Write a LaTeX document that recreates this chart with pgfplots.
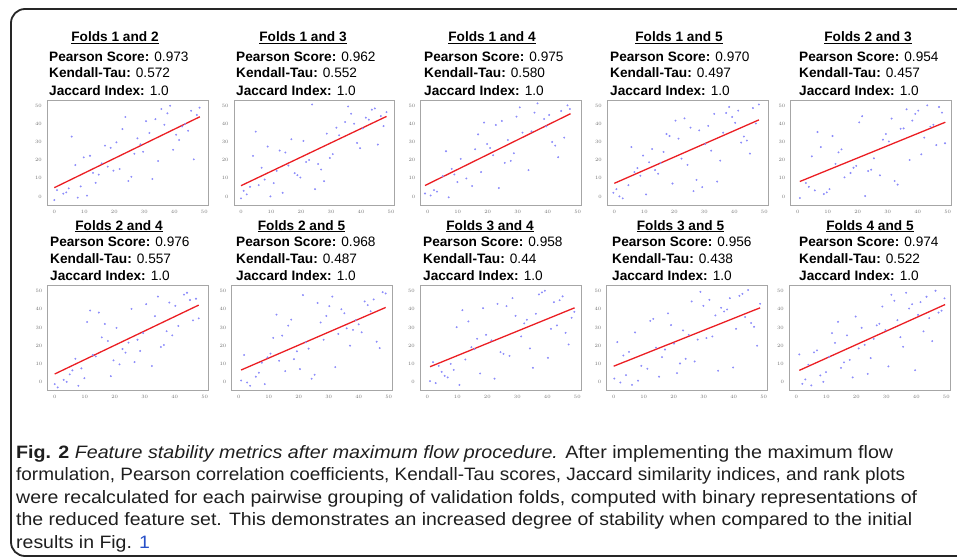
\documentclass[border=0pt]{standalone}
\usepackage{pgfplots}
\pgfplotsset{compat=1.18}
\usepackage{pgfplotstable}
\usepackage{fontspec}
\setmainfont{Liberation Sans}
\usepackage{graphicx}

\definecolor{pt}{RGB}{140,140,250}
\definecolor{rl}{RGB}{235,30,35}
\definecolor{lnk}{RGB}{40,80,200}
\definecolor{cap}{RGB}{30,30,30}

\pgfplotstableread{
x y
0 -2
0.9 3.5
3 1.5
4 2.2
4.8 4.4
5.8 33
7 17.3
7.8 -0.7
8.8 5.5
9.8 21.5
10.9 0.4
11.9 22.4
12.9 13
13.8 7.5
14.8 12
15.8 18.2
16.9 28
17.8 16.4
18.8 26.8
19.7 14.2
20.7 29.8
21.8 15.1
22.7 37.1
23.7 43.8
24.7 8.5
25.7 10.8
26.7 23.5
27.7 32
28.7 28.7
29.6 24.6
30.6 41.5
31.7 35
32.7 9.6
33.7 42.6
34.6 19.5
35.7 48.2
36.7 39.5
37.7 45.8
38.6 50
39.6 25.7
40.6 34
41.6 31.1
42.6 38.6
43.6 39.9
44.6 36.2
45.6 47.2
46.5 20.4
47.5 44.9
48.4 48.9
}\dA

\pgfplotstableread{
x y
0 -1.1
0.9 3.1
1.9 1.1
3 5.3
4 22.3
4.9 35.7
5.9 6.2
6.9 15.8
7.9 9.3
8.9 27.5
9.8 0
10.9 7.3
11.9 14.1
12.9 25.3
13.9 2
14.8 24.2
15.8 17
16.8 31.5
17.9 12.8
18.8 11.7
19.8 10.4
20.8 30.6
21.7 19
22.7 20.1
23.7 50.7
24.7 4
25.7 17.9
26.7 14.8
27.7 8.4
28.6 34.6
29.6 21.2
30.6 23.3
31.8 37.9
32.7 33.7
34.7 41
35.7 49.6
36.7 45.6
37.7 40.1
38.7 29.5
39.7 26.6
40.6 37.5
41.6 43.4
42.6 42.3
43.6 47.8
44.6 48.5
45.6 28.6
46.6 44.3
47.5 38.8
48.5 46.5
}\dB

\pgfplotstableread{
x y
-0.9 1.6
1 0.5
2.1 3.5
3.1 2.6
5 11.2
6.1 24.9
7 -0.5
8 15.2
8.9 12.1
9.9 7.9
11 20.7
12.9 9.9
14.8 5.7
15.8 26
16.8 34.2
17.8 13.4
18.8 40.7
19.8 28.9
20.8 26.7
21.8 22.7
22.7 39.4
23.7 4.6
24.7 41.6
25.7 18.5
26.7 31.1
27.7 19.6
28.7 23.8
29.6 44
30.7 49.1
31.6 35.2
33.6 14.5
34.6 35.9
35.6 46.2
36.6 51.3
38.8 42.7
39.5 38.6
40.5 44.9
41.5 30
42.5 28
43.5 21.6
44.5 47.1
45.5 32.4
46.6 50.2
47.4 48.2
}\dC

\pgfplotstableread{
x y
-0.3 2
0.7 4
1.7 0
2.8 -1.1
4.7 6.2
5.7 27.2
6.7 13.4
7.7 15.6
8.7 11.4
9.6 22.5
10.6 1.1
11.6 18.8
12.6 26.1
13.6 14.5
14.6 12.5
15.4 18.5
16.4 24.5
17.4 34.4
18.4 33.3
19.4 7.1
20.4 41.8
21.4 31.9
22.4 20.8
23.4 43
24.4 17.4
25.4 37.9
26.4 2.9
27.4 9.1
28.3 36.4
29.3 5.1
30.3 28.8
31.3 38.9
32.3 25.2
33.3 45.5
34.3 8.2
35.3 19.7
36.3 35.1
37.3 46
38.3 49.3
39.3 43.8
40.3 40.6
41.3 47.3
42.3 29.7
43.2 33
44.2 30.8
45.2 23.6
46.2 48.7
47.2 40.2
48.2 50.7
}\dD

\pgfplotstableread{
x y
0.7 -0.9
2.7 7.4
3.7 5.3
4.7 22.1
5.7 3.3
6.6 35.5
7.7 27.2
8.7 1.3
9.7 2.2
10.6 4
11.6 33.3
12.6 17.9
13.6 24.3
14.6 25.9
15.6 10.5
17.6 12.9
18.6 15.8
19.5 16.8
20.5 40.8
21.5 44.2
22.5 0.2
23.5 14
24.5 14.7
25.4 21
27.4 11.6
28.4 31.3
29.4 34.4
30.4 30.3
31.3 42.9
32.3 8.5
33.3 6.5
34.3 37.3
35.3 37.5
36.3 48
37.3 20.1
38.2 41.8
39.2 45.5
40.2 47.3
41.2 23.2
42.2 32.4
43.2 50.2
44.2 38.4
45.2 39.5
46.2 28.3
47.1 49.3
48.1 46.2
49.1 29.3
}\dE

\pgfplotstableread{
x y
0 -1.3
1 -3.1
3 1.1
4 0
5 4.1
5.9 6.3
6.9 12.7
7.9 -2.2
8.9 7.4
9.9 2
10.8 33
11.8 39.3
12.7 14.8
13.7 14
14.7 38.2
15.7 24.5
16.7 31.9
17.7 22.5
18.7 3.1
19.6 11.8
20.6 29.7
21.6 9.6
22.6 18.1
23.6 16.1
24.6 21.6
25.6 40.2
26.6 10.9
27.6 23.2
28.5 17
29.5 26.9
30.5 42.8
32.4 8.7
33.4 36.2
34.4 47
35.4 19.2
36.4 20.3
37.3 27.9
38.2 43.7
39.2 25.6
40.2 41.9
41.2 30.8
43.1 48.1
44.1 49.1
45.1 45.1
46.1 33.9
47.1 45.8
48 35
}\dF

\pgfplotstableread{
x y
0.8 0.7
1.8 14.8
2.8 -0.4
3.8 -2.2
5.7 2.8
6.7 5
7.7 10.5
8.7 -1.3
9.6 13.5
10.6 15.5
11.5 24.2
12.6 37
13.5 11.6
14.5 25.5
15.5 5.9
16.5 31
17.5 34.3
18.4 12.5
19.4 16.8
20.4 7
21.4 47.8
22.4 21.8
23.3 18.3
24.3 1.7
25.3 3.9
26.3 43.5
27.3 32.7
28.3 23.2
29.2 36.3
30.2 41.7
31.2 47
32.2 8.1
33.2 26.4
34.2 40
35.2 37.8
36 29.5
37.1 19.9
38.1 28.6
39 34
40 31.7
41 27.3
42 44.3
43 42.3
44 38.9
45 45.4
46 22.1
47 18.6
48 49.4
49 48.7
}\dG

\pgfplotstableread{
x y
0.9 0.4
1.9 10.8
2.8 -0.7
3.8 8.8
4.8 5.5
5.8 3.3
6.8 2.4
7.8 9.9
8.8 6.6
9.8 30.1
10.7 -1.7
11.7 39.5
12.7 12.3
13.7 33.3
14.7 19.1
15.7 18
16.6 23.7
17.6 4.6
18.6 40.6
19.6 25.9
21.4 22.8
22.4 1.7
23.4 43
24.4 16.4
25.4 15.4
26.4 41.7
27.4 14.3
28.4 46.1
29.4 36.4
31.3 25
32.3 32.2
33.2 34.2
34.2 18.4
35.2 7.7
36.2 37.5
37.2 48.2
38.2 49.3
39.2 50.2
40.2 13.2
41.2 29.2
42.2 43.9
43.2 31.1
44.1 45
45.1 47.1
46.1 27
47.1 20.6
48.1 35.3
49 38.6
}\dH

\pgfplotstableread{
x y
0.2 1.8
1.2 21.9
2.2 -0.4
3.2 14.5
4.1 3.7
5.1 16.5
6.1 -1.7
7.1 27.2
8.1 0.6
9.2 8.8
11.2 7.2
12.2 33.6
13.2 34.7
14.1 18.8
15.1 2.8
16.1 13.6
17.1 17.8
18.1 37.7
19.1 31.3
20.1 21.1
21.1 4.8
22.1 10.1
23.1 28.3
24 12.7
25 25.9
26 44.3
27 11.2
28 23.3
28.9 49.6
29.9 41.9
30.9 24.1
31.9 45.2
32.9 25
33.9 36.6
34.8 6.1
35.8 40.8
36.8 38.8
37.8 39.9
38.7 46.1
39.8 7.9
40.8 29.2
41.9 47.4
42.9 48.5
43.8 35.7
44.8 50.6
45.8 32.4
46.8 30.3
47.8 19.9
48.8 43
}\dI

\pgfplotstableread{
x y
1 15.1
2 -1.1
3 1.3
4 9.4
5 -2
5.9 16.2
6.9 17.3
8 3.5
9 0
9.9 5.3
10.9 13.8
11.9 26.8
12.9 21.5
13.9 33.1
14.9 7.7
15.9 10.7
16.9 25.6
17.8 12.1
18.8 2.4
19.8 36
20.8 18.4
21.8 29.8
22.8 20.4
23.8 4.4
24.8 13.1
25.8 23.7
26.8 31.1
27.7 32
28.7 41.5
29.7 28.5
30.7 8.5
31.7 48
32.7 44.7
33.7 34
34.7 24.6
35.6 19.3
36.6 49.1
37.6 40.4
38.6 42.8
39.6 6.4
40.6 36.9
41.4 43.9
42.4 27.8
43.4 46.9
44.3 35.1
45.3 22.4
46.4 50.2
47.4 38.2
48.4 39.2
49.4 46
}\dJ

\pgfplotsset{panel/.style={
  scale only axis, width=160.5bp, height=105bp, anchor=north west,
  xmin=-2.3, xmax=51.2, ymin=-4.8, ymax=53.1,
  xtick={0,10,...,50}, ytick={0,10,...,50},
  major tick length=0pt,
  tick label style={font=\fontsize{5.5}{6}\selectfont, text=black!55},
  yticklabel style={xshift=-2bp},
  xticklabel style={yshift=-1.5bp},
  axis line style={black!35, line width=0.8bp},
}}

% #1 data, #2 line coords, #3 left, #4 top
\newcommand\pnl[4]{%
  \begin{axis}[panel, at={(#3bp,-#4bp)}]
    \addplot[only marks, mark=*, mark size=0.75bp, color=pt] table {#1};
    \addplot[rl, line width=1.3bp] coordinates {#2};
  \end{axis}}

% #1 title cx, #2 text left, #3..#6 baselines, #7 title, #8 pearson, #9 kendall
\newcommand\txt[9]{%
  \node[anchor=base, inner sep=0pt, font=\fontsize{13.7}{16}\selectfont\bfseries] at (#1bp,-#3bp) {\underline{#7}};
  \node[anchor=base west, inner sep=0pt, font=\fontsize{13.7}{16}\selectfont] at (#2bp,-#4bp) {\textbf{Pearson Score:} #8};
  \node[anchor=base west, inner sep=0pt, font=\fontsize{13.7}{16}\selectfont] at (#2bp,-#5bp) {\textbf{Kendall-Tau:} #9};
  \node[anchor=base west, inner sep=0pt, font=\fontsize{13.7}{16}\selectfont] at (#2bp,-#6bp) {\textbf{Jaccard Index:} 1.0};}

\newcommand\capfont{\fontsize{18}{20}\selectfont}
\newcommand\lineFour{the reduced feature set. This demonstrates an increased degree of stability when compared to the initial}
\newlength\Lfour

\begin{document}
\settowidth\Lfour{\capfont\lineFour}%
\pgfmathsetmacro\capfac{896bp/\Lfour}%
\begin{tikzpicture}
\useasboundingbox (0,0) rectangle (957bp,-559bp);
\begin{scope}
  \clip (0,0) rectangle (957bp,-559bp);
  \draw[line width=1.8bp, black!85, rounded corners=14bp] (11bp,-9bp) rectangle (990bp,-556bp);
\end{scope}

\pnl{\dA}{(0,4.8) (48.5,43.9)}{47.4}{100.1}
\pnl{\dB}{(0,5.9) (48.5,44.1)}{234.1}{100.1}
\pnl{\dC}{(-0.9,6) (47.6,45.6)}{420.8}{100.1}
\pnl{\dD}{(0,7.2) (48.2,42.2)}{607.4}{100.1}
\pnl{\dE}{(0.7,8.2) (49.2,40.9)}{790.8}{100.1}
\pnl{\dF}{(0,4.3) (48,42.3)}{47.8}{285.5}
\pnl{\dG}{(0.8,6.5) (49,41)}{231.8}{285.5}
\pnl{\dH}{(0.9,8.3) (49.1,40.8)}{420.4}{285.5}
\pnl{\dI}{(0,8.6) (48.8,40.8)}{606.8}{285.5}
\pnl{\dJ}{(1,6.3) (49.6,42.6)}{789.4}{285.5}

\txt{115}{49}{41.5}{61.5}{77.5}{95}{Folds 1 and 2}{0.973}{0.572}
\txt{303}{236}{41.5}{61.5}{77.5}{95}{Folds 1 and 3}{0.962}{0.552}
\txt{492}{424}{41.5}{61.5}{77.5}{95}{Folds 1 and 4}{0.975}{0.580}
\txt{679}{610}{41.5}{61.5}{77.5}{95}{Folds 1 and 5}{0.970}{0.497}
\txt{868}{799}{41.5}{61.5}{77.5}{95}{Folds 2 and 3}{0.954}{0.457}
\txt{119}{50}{230}{246.5}{263}{280.5}{Folds 2 and 4}{0.976}{0.557}
\txt{301.5}{236}{230}{246.5}{263}{280.5}{Folds 2 and 5}{0.968}{0.487}
\txt{490}{423}{230}{246.5}{263}{280.5}{Folds 3 and 4}{0.958}{0.44}
\txt{680.5}{612}{230}{246.5}{263}{280.5}{Folds 3 and 5}{0.956}{0.438}
\txt{870}{799}{230}{246.5}{263}{280.5}{Folds 4 and 5}{0.974}{0.522}

\begin{scope}[every node/.style={anchor=base west, inner sep=0pt, text=cap, font=\capfont}]
\node at (16bp,-458bp) {\resizebox{877bp}{\height}{\textbf{Fig. 2} \textit{Feature stability metrics after maximum flow procedure.} After implementing the maximum flow}};
\node at (16bp,-480.5bp) {\resizebox{889bp}{\height}{formulation, Pearson correlation coefficients, Kendall-Tau scores, Jaccard similarity indices, and rank plots}};
\node at (16bp,-503bp) {\resizebox{901bp}{\height}{were recalculated for each pairwise grouping of validation folds, computed with binary representations of}};
\node at (16bp,-525.5bp) {\resizebox{896bp}{\height}{\lineFour}};
\node at (16bp,-548bp) {\scalebox{\capfac}[1]{results in Fig. \textcolor{lnk}{1}}};
\end{scope}
\end{tikzpicture}
\end{document}
